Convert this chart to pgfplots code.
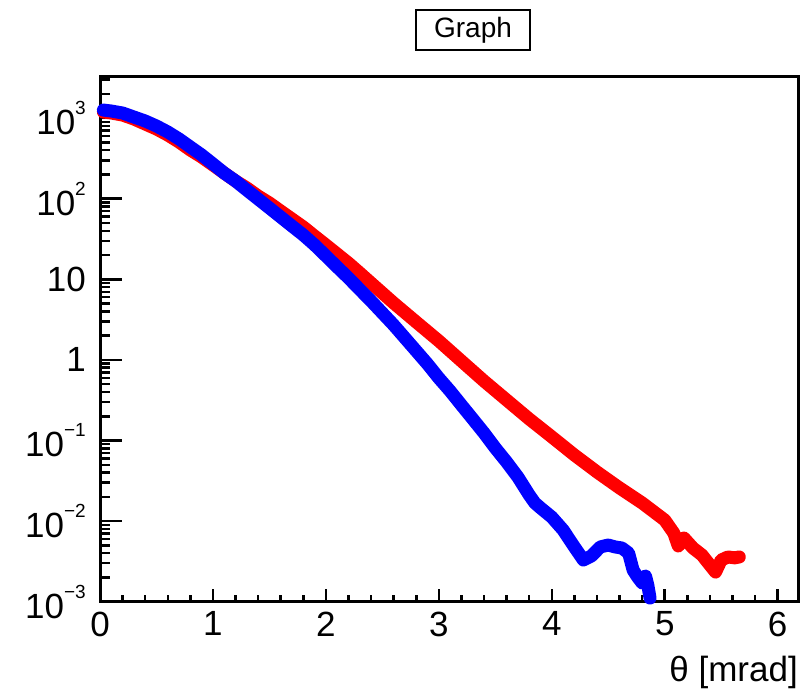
\documentclass[border=0pt]{standalone}
\usepackage{pgfplots}
\pgfplotsset{compat=1.18}
\usepackage{fontspec}
\setmainfont{Liberation Sans}
\newcommand{\ex}[1]{\raisebox{20pt}{\fontsize{19}{19}\selectfont #1}}
\pgfplotsset{myax/.style={
  scale only axis, width=698pt, height=525pt,
  at={(100pt,89.3pt)}, anchor=south west,
  xmin=0, xmax=6.18, ymin=1e-3, ymax=3266,
  axis line style={line width=3pt},
  tick style={line width=2.5pt, black},
  tick align=inside,
  /pgf/number format/assume math mode=true,
  ticklabel style={font=\fontsize{35}{40}\selectfont, inner sep=0pt},
}}

\pgfplotstableread{
x y
0.03 1191
0.1 1157
0.2 1092
0.3 975
0.4 845
0.5 733
0.6 617
0.7 505
0.8 402
0.9 329
1.0 262
1.1 208
1.2 166
1.3 136
1.4 108
1.5 88.5
1.6 70.3
1.7 56.0
1.8 44.6
1.9 34.4
2.0 26.7
2.1 20.6
2.2 15.9
2.3 12.0
2.4 9.00
2.6 5.08
2.8 2.95
3.0 1.72
3.2 0.969
3.4 0.547
3.6 0.318
3.8 0.185
4.0 0.111
4.2 0.0661
4.4 0.0407
4.6 0.0258
4.8 0.0168
5.0 0.0103
5.08 0.00711
5.12 0.00491
5.17 0.00617
5.25 0.00464
5.33 0.00379
5.40 0.00285
5.45 0.00233
5.50 0.00329
5.56 0.00359
5.62 0.00350
5.66 0.00359
}\redtab

\pgfplotstableread{
x y
0.03 1259
0.1 1225
0.2 1157
0.3 1032
0.4 921
0.5 798
0.6 673
0.7 551
0.8 438
0.9 349
1.0 270
1.1 208
1.2 166
1.3 128
1.4 99.1
1.5 76.7
1.6 59.3
1.7 45.8
1.8 35.5
1.9 26.7
2.0 19.5
2.1 14.2
2.2 10.4
2.3 7.47
2.4 5.38
2.5 3.82
2.6 2.71
2.7 1.87
2.8 1.29
2.9 0.889
3.0 0.595
3.1 0.411
3.2 0.275
3.3 0.185
3.4 0.124
3.5 0.0807
3.6 0.0541
3.7 0.0352
3.8 0.0211
3.85 0.0168
3.9 0.0146
4.0 0.0112
4.1 0.00777
4.2 0.00478
4.28 0.00329
4.35 0.00369
4.43 0.00478
4.5 0.00505
4.56 0.00478
4.62 0.00464
4.68 0.00402
4.72 0.00247
4.76 0.00202
4.80 0.00171
4.83 0.00208
4.85 0.00161
4.87 0.00111
}\bluetab

\begin{document}
\begin{tikzpicture}[x=1pt,y=1pt]
\path[use as bounding box] (0,0) rectangle (801,691);
\begin{axis}[myax, ymode=log,
  xtick=\empty,
  ytick={1e-3,1e-2,1e-1,1,10,100,1000},
  yticklabels={10\ex{−3},10\ex{−2},10\ex{−1},1,10,10\ex{2},10\ex{3}},
  minor ytick={0.002,0.003,0.004,0.005,0.006,0.007,0.008,0.009,
    0.02,0.03,0.04,0.05,0.06,0.07,0.08,0.09,
    0.2,0.3,0.4,0.5,0.6,0.7,0.8,0.9,
    2,3,4,5,6,7,8,9,
    20,30,40,50,60,70,80,90,
    200,300,400,500,600,700,800,900,
    2000,3000},
  major tick length=22pt, minor tick length=10pt,
  yticklabel style={xshift=-14pt},
  ytick pos=left,
]
\end{axis}
\begin{axis}[myax, ymode=log,
  ytick=\empty, minor ytick={},
  xtick={0,1,2,3,4,5,6}, xticklabels={0,1,2,3,4,5,6},
  minor x tick num=4,
  major tick length=13pt, minor tick length=7pt,
  xtick pos=bottom,
  xticklabel style={yshift=-10pt},
  clip=false,
]
\addplot[color=red, line width=13pt, line join=round, line cap=round] table[x=x,y=y] {\redtab};
\addplot[color=blue, line width=13pt, line join=round, line cap=round] table[x=x,y=y] {\bluetab};
\end{axis}
\node[draw, line width=2pt, minimum width=114pt, minimum height=40pt, inner sep=0pt, font=\fontsize{28}{30}\selectfont] at (473,661) {Graph};
\node[anchor=base east, inner sep=0pt, font=\fontsize{35}{40}\selectfont] at (798,9.3) {θ [mrad]};
\end{tikzpicture}
\end{document}
